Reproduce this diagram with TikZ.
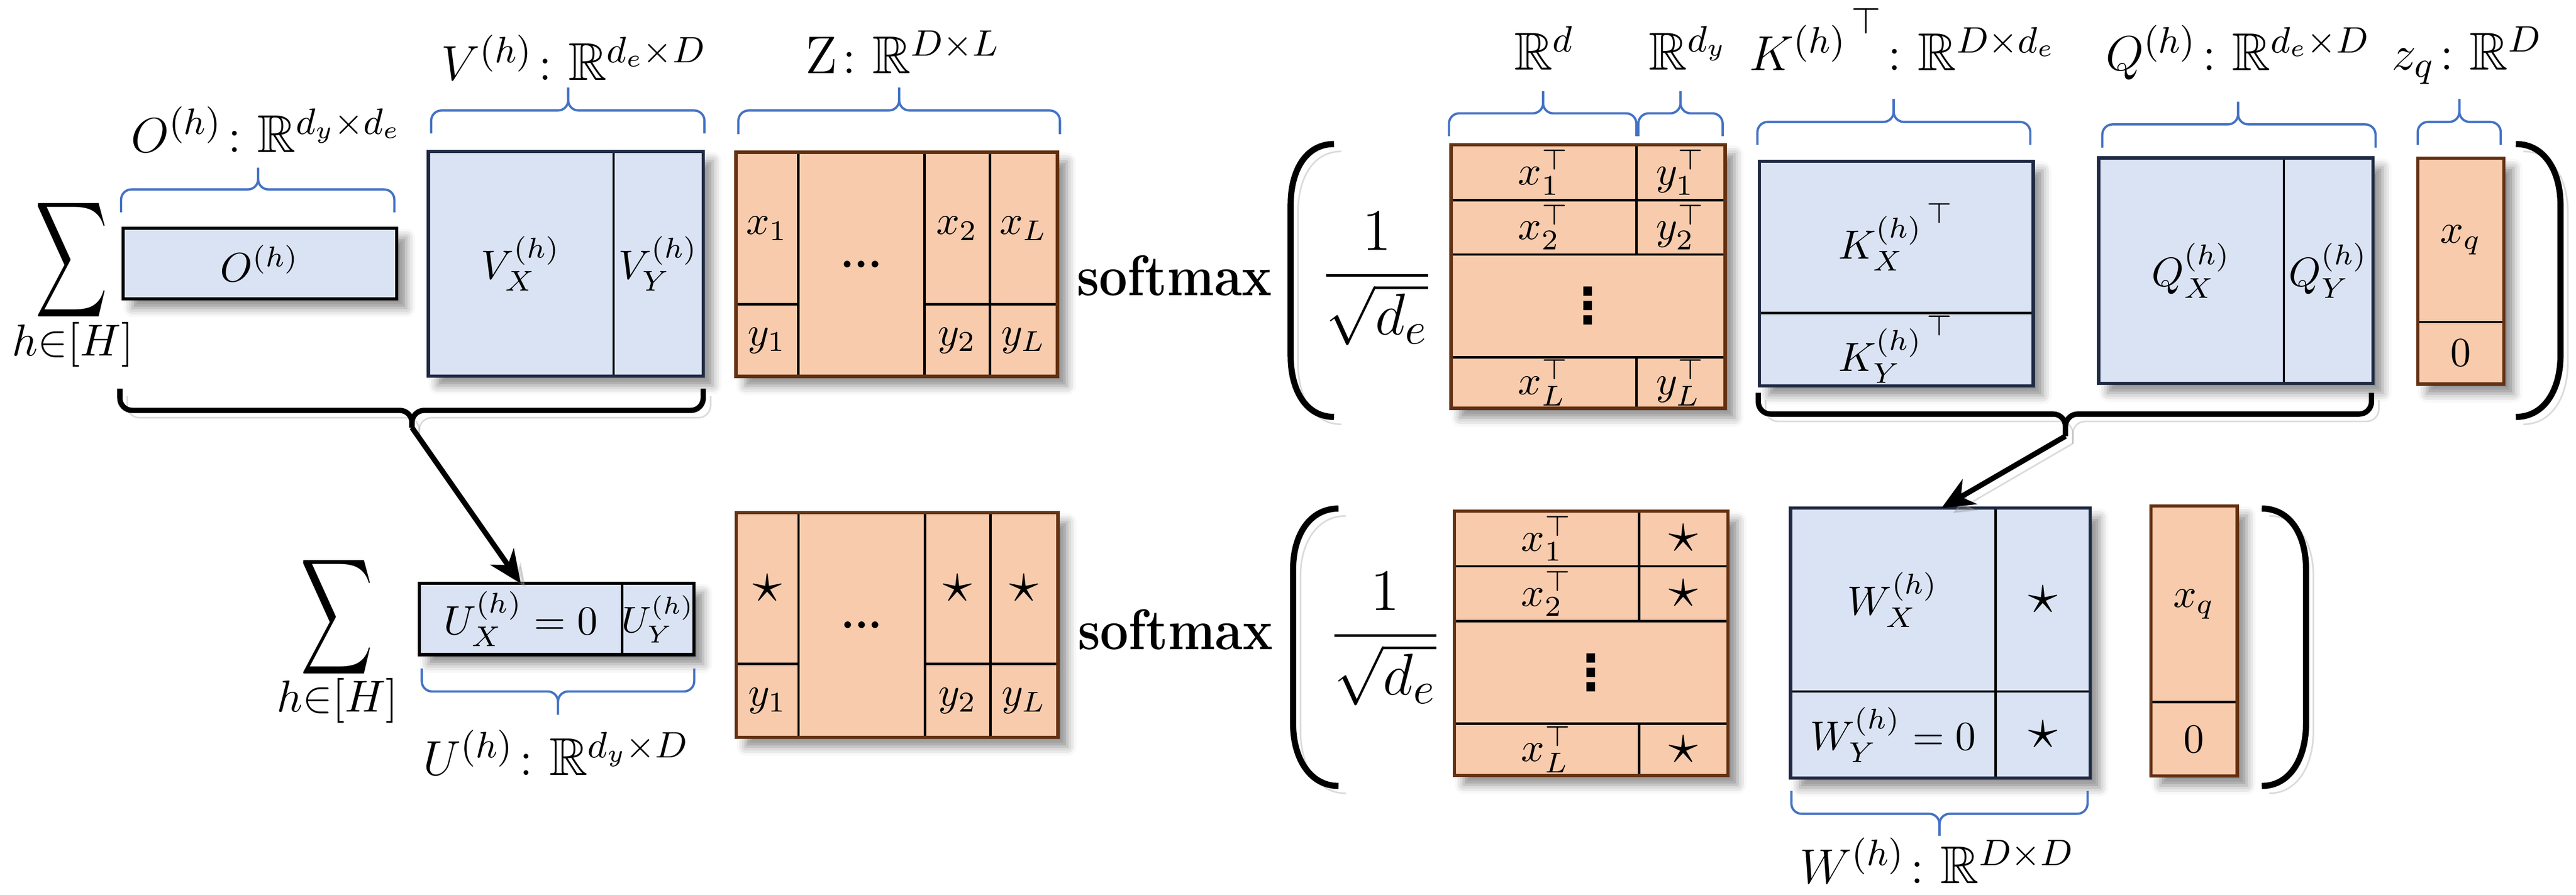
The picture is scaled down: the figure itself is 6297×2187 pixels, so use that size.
\documentclass[tikz,border=0pt]{standalone}
\usepackage{amsmath,amssymb}
\usepackage{fontspec}
\newfontfamily\dejavu{DejaVu Sans}
\usetikzlibrary{fit,calc,arrows.meta,shadows.blur}
\definecolor{bfill}{HTML}{DAE3F3}
\definecolor{bborder}{HTML}{1F2A44}
\definecolor{ofill}{HTML}{F7CBAC}
\definecolor{oborder}{HTML}{633112}
\definecolor{braceblue}{HTML}{4472C4}
\newcommand\labfont{\fontsize{13}{15}\selectfont}
\newcommand\cellfont{\fontsize{10}{12}\selectfont}
\newcommand\mytop{\raisebox{0.35em}{$\scriptstyle\top$}}
\newcommand\mystar{{\fontsize{15}{16}\selectfont$\star$}}
\newcommand\mydots{{\fontsize{10.5}{12}\selectfont\textbf{...}}}
\newcommand\myvdots{{\dejavu\bfseries\fontsize{12}{14}\selectfont ⋮}}
\begin{document}
\begin{tikzpicture}[x=0.1pt,y=-0.1pt,
  every label/.style={font=\cellfont,inner sep=0pt,outer sep=0pt},
  shad/.style={blur shadow={shadow xshift=2.3pt,shadow yshift=-2.3pt,shadow blur radius=2.2pt,shadow opacity=45}},
  bluebg/.style={fill=bfill,shad,inner sep=0pt,outer sep=0pt},
  orangebg/.style={fill=ofill,shad,inner sep=0pt,outer sep=0pt},
  cell/.style={draw=black,line width=0.6pt,inner sep=0pt,outer sep=0pt},
  bframe/.style={draw=bborder,line width=0.8pt,inner sep=0pt,outer sep=0pt},
  kframe/.style={draw=black,line width=0.8pt,inner sep=0pt,outer sep=0pt},
  oframe/.style={draw=oborder,line width=0.8pt,inner sep=0pt,outer sep=0pt},
  lab/.style={font=\labfont,anchor=base,inner sep=0pt},
  ubrace/.style={draw=braceblue,line width=0.55pt,rounded corners=2.5pt},
  lshad/.style={preaction={draw=black!40,opacity=0.35,transform canvas={shift={(1.8pt,-1.8pt)}}}},
  bbrace/.style={draw=black,line width=1.3pt,rounded corners=3pt,lshad},
  paren/.style={draw=black,line width=1.5pt,lshad},
  conn/.style={draw=black,line width=1.3pt,-{Stealth[length=8pt,width=7pt,inset=2.5pt]},lshad},
  sm/.style={font=\fontsize{14}{16}\selectfont\bfseries,anchor=base,inner sep=0pt},
  fracn/.style={font=\fontsize{15.5}{18}\selectfont,anchor=base,inner sep=0pt},
  sumn/.style={font=\fontsize{19.8}{22}\selectfont,inner sep=0pt},
  subn/.style={font=\fontsize{10.5}{12}\selectfont,inner sep=0pt}
]
\useasboundingbox (0,0) rectangle (6297,2187);

%================ TOP ROW ================
\node[sumn] (sum1) at (175,636) {\scalebox{0.62}[1]{$\displaystyle\sum$}};
\node[subn] (sub1) at (178,842) {$h{\in}[H]$};

% O box
\node[bluebg,fit={(301,558)(970,730)}] (Obg) {};
\node[kframe,fit={(301,558)(970,730)},label={center:$O^{(h)}$}] (O) {};
\draw[ubrace] (296,519) |- (631,463) -- (631,410);
\draw[ubrace] (964,519) |- (631,463) -- (631,410);
\node[lab] (Olab) at (651,372) {$O^{(h)}\colon\mathbb{R}^{d_y\times d_e}$};

% V box
\node[bluebg,fit={(1047,370)(1719,919)}] (Vbg) {};
\node[cell,fit={(1047,370)(1500,919)},label={center:$V_X^{(h)}$}] (VX) {};
\node[cell,fit={(1500,370)(1719,919)},label={center:$V_Y^{(h)}$}] (VY) {};
\node[bframe,fit={(1047,370)(1719,919)}] (Vfr) {};
\draw[ubrace] (1054,326) |- (1389,270) -- (1389,214);
\draw[ubrace] (1722,326) |- (1389,270) -- (1389,214);
\node[lab] (Vlab) at (1403,196) {$V^{(h)}\colon\mathbb{R}^{d_e\times D}$};

% Z box
\node[orangebg,fit={(1799,372)(2585,920)}] (Zbg) {};
\node[cell,fit={(1799,372)(1951,744)},label={center:$x_1$}] (Zx1) {};
\node[cell,fit={(1799,744)(1951,920)},label={center:$y_1$}] (Zy1) {};
\node[cell,fit={(1951,372)(2260,920)},label={center:\mydots}] (Zd) {};
\node[cell,fit={(2260,372)(2420,744)},label={center:$x_2$}] (Zx2) {};
\node[cell,fit={(2260,744)(2420,920)},label={center:$y_2$}] (Zy2) {};
\node[cell,fit={(2420,372)(2585,744)},label={center:$x_L$}] (ZxL) {};
\node[cell,fit={(2420,744)(2585,920)},label={center:$y_L$}] (ZyL) {};
\node[oframe,fit={(1799,372)(2585,920)}] (Zfr) {};
\draw[ubrace] (1805,328) |- (2198,270) -- (2198,214);
\draw[ubrace] (2591,328) |- (2198,270) -- (2198,214);
\node[lab] (Zlab) at (2207,180) {$\mathrm{Z}\colon\mathbb{R}^{D\times L}$};

% softmax
\node[sm] (sm1) at (2871,722) {\scalebox{0.88}[1]{softmax}};
\draw[paren] (3261,352) .. controls (3190,352) and (3155,420) .. (3155,500) -- (3155,870) .. controls (3155,950) and (3190,1019) .. (3261,1019);
\node[fracn] (fr1) at (3366,709) {$\displaystyle\frac{1}{\sqrt{d_e}}$};

% X matrix
\node[orangebg,fit={(3547,354)(4217,998)}] (Xbg) {};
\node[cell,fit={(3547,354)(4000,489)},label={center:$x_1^{\top}$}] (X11) {};
\node[cell,fit={(4000,354)(4217,489)},label={center:$y_1^{\top}$}] (X12) {};
\node[cell,fit={(3547,489)(4000,622)},label={center:$x_2^{\top}$}] (X21) {};
\node[cell,fit={(4000,489)(4217,622)},label={center:$y_2^{\top}$}] (X22) {};
\node[cell,fit={(3547,622)(4217,873)},label={center:\myvdots}] (X3) {};
\node[cell,fit={(3547,873)(4000,998)},label={center:$x_L^{\top}$}] (X41) {};
\node[cell,fit={(4000,873)(4217,998)},label={center:$y_L^{\top}$}] (X42) {};
\node[oframe,fit={(3547,354)(4217,998)}] (Xfr) {};
\draw[ubrace] (3542,333) |- (3772,277) -- (3772,223);
\draw[ubrace] (4000,333) |- (3772,277) -- (3772,223);
\draw[ubrace] (4005,333) |- (4108,277) -- (4108,223);
\draw[ubrace] (4211,333) |- (4108,277) -- (4108,223);
\node[lab] (Rd) at (3775,170) {$\mathbb{R}^{d}$};
\node[lab] (Rdy) at (4127,170) {$\mathbb{R}^{d_y}$};

% K box
\node[bluebg,fit={(4301,394)(4970,943)}] (Kbg) {};
\node[cell,fit={(4301,394)(4970,765)},label={center:$K_X^{(h)\,\mytop}$}] (KX) {};
\node[cell,fit={(4301,765)(4970,943)},label={center:$K_Y^{(h)\,\mytop}$}] (KY) {};
\node[bframe,fit={(4301,394)(4970,943)}] (Kfr) {};
\draw[ubrace] (4296,354) |- (4629,298) -- (4629,242);
\draw[ubrace] (4963,354) |- (4629,298) -- (4629,242);
\node[lab] (Klab) at (4651,172) {$K^{(h)\,\mytop}\colon\mathbb{R}^{D\times d_e}$};

% Q box
\node[bluebg,fit={(5130,386)(5801,937)}] (Qbg) {};
\node[cell,fit={(5130,386)(5583,937)},label={center:$Q_X^{(h)}$}] (QX) {};
\node[cell,fit={(5583,386)(5801,937)},label={center:$Q_Y^{(h)}$}] (QY) {};
\node[bframe,fit={(5130,386)(5801,937)}] (Qfr) {};
\draw[ubrace] (5139,361) |- (5471,304) -- (5471,249);
\draw[ubrace] (5807,361) |- (5471,304) -- (5471,249);
\node[lab] (Qlab) at (5471,172) {$Q^{(h)}\colon\mathbb{R}^{d_e\times D}$};

% z_q box
\node[orangebg,fit={(5910,387)(6121,939)}] (zqbg) {};
\node[cell,fit={(5910,387)(6121,787)},label={center:$x_q$}] (xq1) {};
\node[cell,fit={(5910,787)(6121,939)},label={center:$0$}] (zq0) {};
\node[oframe,fit={(5910,387)(6121,939)}] (zqfr) {};
\draw[ubrace] (5910,354) |- (6012,298) -- (6012,242);
\draw[ubrace] (6113,354) |- (6012,298) -- (6012,242);
\node[lab] (zqlab) at (6031,170) {$z_q\colon\mathbb{R}^{D}$};

\draw[paren] (6150,352) .. controls (6221,352) and (6259,420) .. (6259,500) -- (6259,870) .. controls (6259,950) and (6221,1019) .. (6150,1019);

% black braces
\coordinate (tip1) at (1007,1045);
\draw[bbrace] (293,950) |- (1007,1003) -- (tip1);
\draw[bbrace] (1719,950) |- (1007,1003) -- (tip1);
\coordinate (tip2) at (5049,1066);
\draw[bbrace] (4298,960) |- (5049,1012) -- (tip2);
\draw[bbrace] (5797,960) |- (5049,1012) -- (tip2);

%================ BOTTOM ROW ================
\node[sumn] (sum2) at (824,1508) {\scalebox{0.62}[1]{$\displaystyle\sum$}};
\node[subn] (sub2) at (825,1712) {$h{\in}[H]$};

% U box
\node[bluebg,fit={(1025,1426)(1696,1600)}] (Ubg) {};
\node[cell,fit={(1025,1426)(1521,1600)},label={center:$U_X^{(h)}=0$}] (UX) {};
\node[cell,fit={(1521,1426)(1696,1600)},label={[font=\fontsize{9}{11}\selectfont]center:$U_Y^{(h)}$}] (UY) {};
\node[kframe,fit={(1025,1426)(1696,1600)}] (Ufr) {};
\draw[ubrace] (1031,1634) |- (1364,1690) -- (1364,1747);
\draw[ubrace] (1697,1634) |- (1364,1690) -- (1364,1747);
\node[lab] (Ulab) at (1360,1895) {$U^{(h)}\colon\mathbb{R}^{d_y\times D}$};

% Z' box
\node[orangebg,fit={(1800,1253)(2586,1802)}] (Z2bg) {};
\node[cell,fit={(1800,1253)(1952,1623)},label={center:\mystar}] (Z2s1) {};
\node[cell,fit={(1800,1623)(1952,1802)},label={center:$y_1$}] (Z2y1) {};
\node[cell,fit={(1952,1253)(2261,1802)},label={center:\mydots}] (Z2d) {};
\node[cell,fit={(2261,1253)(2421,1623)},label={center:\mystar}] (Z2s2) {};
\node[cell,fit={(2261,1623)(2421,1802)},label={center:$y_2$}] (Z2y2) {};
\node[cell,fit={(2421,1253)(2586,1623)},label={center:\mystar}] (Z2sL) {};
\node[cell,fit={(2421,1623)(2586,1802)},label={center:$y_L$}] (Z2yL) {};
\node[oframe,fit={(1800,1253)(2586,1802)}] (Z2fr) {};

\node[sm] (sm2) at (2873,1587) {\scalebox{0.88}[1]{softmax}};
\draw[paren] (3272,1243) .. controls (3200,1243) and (3161,1310) .. (3161,1390) -- (3161,1770) .. controls (3161,1850) and (3200,1921) .. (3272,1921);
\node[fracn] (fr2) at (3386,1589) {$\displaystyle\frac{1}{\sqrt{d_e}}$};

% X' matrix
\node[orangebg,fit={(3555,1249)(4224,1895)}] (X2bg) {};
\node[cell,fit={(3555,1249)(4007,1384)},label={center:$x_1^{\top}$}] (Y11) {};
\node[cell,fit={(4007,1249)(4224,1384)},label={center:\mystar}] (Y12) {};
\node[cell,fit={(3555,1384)(4007,1518)},label={center:$x_2^{\top}$}] (Y21) {};
\node[cell,fit={(4007,1384)(4224,1518)},label={center:\mystar}] (Y22) {};
\node[cell,fit={(3555,1518)(4224,1769)},label={center:\myvdots}] (Y3) {};
\node[cell,fit={(3555,1769)(4007,1895)},label={center:$x_L^{\top}$}] (Y41) {};
\node[cell,fit={(4007,1769)(4224,1895)},label={center:\mystar}] (Y42) {};
\node[oframe,fit={(3555,1249)(4224,1895)}] (X2fr) {};

% W box
\node[bluebg,fit={(4377,1242)(5109,1902)}] (Wbg) {};
\node[cell,fit={(4377,1242)(4878,1690)},label={center:$W_X^{(h)}$}] (WX) {};
\node[cell,fit={(4878,1242)(5109,1690)},label={center:\mystar}] (Ws1) {};
\node[cell,fit={(4377,1690)(4878,1902)},label={center:$W_Y^{(h)}=0$}] (WY) {};
\node[cell,fit={(4878,1690)(5109,1902)},label={center:\mystar}] (Ws2) {};
\node[bframe,fit={(4377,1242)(5109,1902)}] (Wfr) {};
\draw[ubrace] (4379,1933) |- (4741,1989) -- (4741,2043);
\draw[ubrace] (5103,1933) |- (4741,1989) -- (4741,2043);
\node[lab] (Wlab) at (4736,2159) {$W^{(h)}\colon\mathbb{R}^{D\times D}$};

% x_q box
\node[orangebg,fit={(5258,1237)(5469,1897)}] (xq2bg) {};
\node[cell,fit={(5258,1237)(5469,1716)},label={center:$x_q$}] (xq2) {};
\node[cell,fit={(5258,1716)(5469,1897)},label={center:$0$}] (zq2) {};
\node[oframe,fit={(5258,1237)(5469,1897)}] (xq2fr) {};
\draw[paren] (5529,1243) .. controls (5600,1243) and (5637,1310) .. (5637,1390) -- (5637,1770) .. controls (5637,1850) and (5600,1921) .. (5529,1921);

% connectors
\draw[conn] (tip1) -- (UX.north);
\draw[conn] (tip2) -- ($(WX.north west)!0.736!(WX.north east)$);
\end{tikzpicture}
\end{document}
